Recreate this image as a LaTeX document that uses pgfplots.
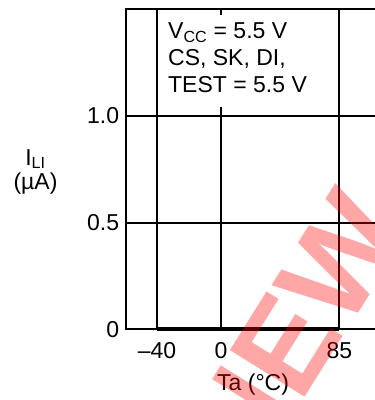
\documentclass[border=0pt]{standalone}
\usepackage{pgfplots}
\pgfplotsset{compat=1.18}
\usetikzlibrary{calc}
\usepackage{fontspec}
\setmainfont{Liberation Sans}
\newcommand\ff{\fontsize{23pt}{27pt}\selectfont}
\begin{document}
\begin{tikzpicture}
\path[use as bounding box] (-125.7pt,-70.7pt) rectangle (249.3pt,329.3pt);
\begin{axis}[
  name=ax, at={(0,0)}, anchor=south west,
  scale only axis, width=260pt, height=320pt,
  xmin=0, xmax=260, ymin=0, ymax=1.5,
  xtick={31.3,95.3,213.6}, xticklabels={\textendash40,0,85},
  ytick={0,0.5,1.0}, yticklabels={0,0.5,1.0},
  grid=major, grid style={black, line width=2.2pt},
  axis line style={black, line width=2.2pt},
  major tick length=0pt,
  tick label style={font=\ff},
  xticklabel style={yshift=-10pt},
  yticklabel style={xshift=-3pt},
  xlabel={Ta (°C)}, ylabel={I\textsubscript{LI}\\(µA)},
  label style={font=\ff},
  xlabel style={at={(axis description cs:0.49,-0.174)}, anchor=center},
  ylabel style={rotate=-90, align=center, at={(axis description cs:-0.347,0.493)},
    anchor=center, font=\fontsize{23pt}{24pt}\selectfont},
  clip=false,
]
% white box behind the test conditions
\fill[white] (axis cs:34.3,1.0407) rectangle (axis cs:199.3,1.4715);
\node[anchor=north west, inner sep=0pt, align=left, font=\ff]
  at (axis cs:42.3,1.439) {V\textsubscript{CC} = 5.5 V\\CS, SK, DI,\\TEST = 5.5 V};
\addplot[black, line width=4.2pt] coordinates {(31.3,0) (213.6,0)};
\end{axis}
% watermark
\node[overlay, red, opacity=0.35, rotate=58, inner sep=0pt,
  font=\fontsize{128pt}{128pt}\selectfont\bfseries]
  at ($(ax.south west)+(168pt,-4pt)$) {NEW};
\end{tikzpicture}
\end{document}
